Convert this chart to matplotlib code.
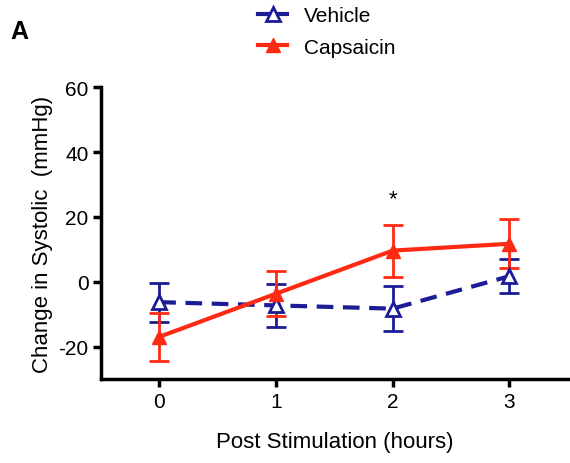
import matplotlib.pyplot as plt
from matplotlib.lines import Line2D

plt.rcParams['font.family'] = ['Liberation Sans', 'DejaVu Sans']
plt.rcParams['axes.unicode_minus'] = False

# data
hours = [0, 1, 2, 3]
vehicle = [-6.3, -7.3, -8.3, 1.7]
vehicle_err = [6.0, 6.6, 7.0, 5.3]
capsaicin = [-17.0, -3.7, 9.6, 11.7]
capsaicin_err = [7.3, 7.0, 8.0, 7.5]

fig = plt.figure(figsize=(5.7, 4.64), dpi=100)
ax = fig.add_axes([0.177, 0.181, 0.819, 0.629])

blue = '#1c1c96'
red = '#ff2a14'
ax.errorbar(hours, vehicle, yerr=vehicle_err, color=blue, linestyle='--', linewidth=3,
            dashes=(4, 2.3), marker='^', markersize=10, markerfacecolor='white',
            markeredgewidth=2, capsize=7, elinewidth=2, capthick=2)
ax.errorbar(hours, capsaicin, yerr=capsaicin_err, color=red, linestyle='-', linewidth=3,
            marker='^', markersize=10, capsize=7, elinewidth=2, capthick=2)

ax.text(2, 25.5, '*', ha='center', va='center', fontsize=16)

ax.set_xlim(-0.5, 3.5)
ax.set_ylim(-30, 60)
ax.set_xticks(hours)
ax.set_yticks([-20, 0, 20, 40, 60])
for s in ['top', 'right']:
    ax.spines[s].set_visible(False)
ax.spines['left'].set_linewidth(2.5)
ax.spines['bottom'].set_linewidth(2.5)
ax.tick_params(width=2.5, length=6, labelsize=15, pad=3)
ax.set_xlabel('Post Stimulation (hours)', fontsize=16, labelpad=15)
ax.set_ylabel('Change in Systolic  (mmHg)', fontsize=16, labelpad=4)

handles = [
    Line2D([], [], color=blue, linewidth=3, marker='^', markersize=10,
           markerfacecolor='white', markeredgewidth=2),
    Line2D([], [], color=red, linewidth=3, marker='^', markersize=10),
]
fig.legend(handles, ['Vehicle', 'Capsaicin'], loc='upper left',
           bbox_to_anchor=(0.42, 1.025), frameon=False, fontsize=15,
           handlelength=1.4, handletextpad=0.8, labelspacing=0.6)
fig.text(0.018, 0.915, 'A', fontsize=18, fontweight='bold')

plt.savefig('out.png')
